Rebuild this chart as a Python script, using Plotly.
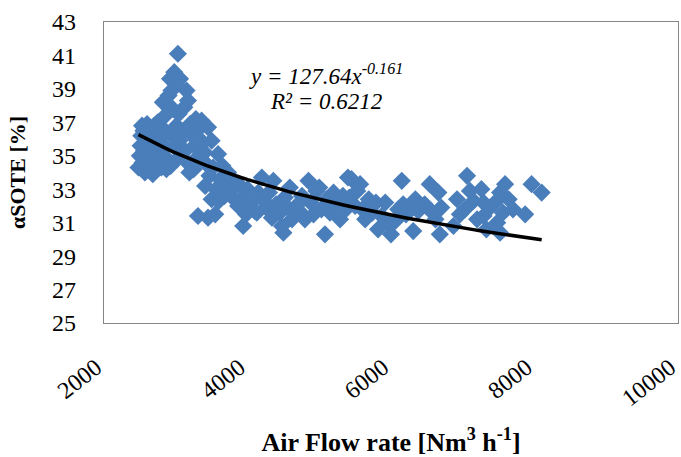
import plotly.graph_objects as go

# Scatter data: air flow rate [Nm3/h] vs alpha SOTE [%]
air_flow = [
    2480, 2500, 2510, 2520, 2530, 2550, 2560, 2540, 2570,
    2600, 2620, 2640, 2650, 2660, 2680, 2700, 2690,
    2750, 2760, 2770, 2780, 2800, 2820, 2830, 2850, 2840, 2860, 2870,
    2900, 2920, 2940, 2960, 2980, 3000, 3030, 3010, 2950, 2990, 3020, 2930, 3050, 3040, 3060,
    3100, 3120, 3150, 3170, 3130, 3160, 3190, 3200, 3230, 3260, 3280, 3300, 3250, 3320, 3310,
    3360, 3380, 3400, 3410, 3430, 3450, 3470, 3500, 3500, 3520, 3550, 3560, 3590, 3620, 3650, 3680, 3700, 3450, 3600,
    3730, 3760, 3800, 3840, 3870, 3900, 3940, 3950, 3980, 4000,
    4050, 4100, 4130, 4150, 4200, 4230, 4260, 4300, 4340, 4360, 4400, 4450, 4480, 4500, 4520, 4560, 4590, 4620,
    4680, 4720, 4760, 4800, 4850, 4880, 4920, 4960, 5000, 5030, 5080, 5100, 5150, 5200, 5250, 5290, 5330, 5370, 5400, 5420,
    5450, 5500, 5530, 5570, 5600, 5640, 5690, 5740, 5790, 5820, 5870, 5920, 5960, 6000, 6060, 6100, 6150, 6170, 6210,
    6270, 6310, 6340, 6380, 6420, 6470, 6540, 6580, 6620, 6660, 6680, 6700,
    6870, 6920, 6960, 7030, 7060, 7100, 7150, 7200, 7260, 7290, 7290, 7330, 7380, 7450, 7480, 7520, 7520, 7560,
    7590, 7640, 7700, 7870, 7960, 8100,
]
sote = [
    34.3, 35.0, 35.6, 36.2, 36.8, 36.5, 35.3, 34.6, 34.0,
    36.9, 36.3, 35.7, 35.1, 34.5, 33.9, 36.8, 35.9,
    37.0, 36.0, 35.4, 34.8, 34.3, 38.2, 37.3, 36.5, 35.6, 34.9, 34.2,
    38.6, 39.6, 38.9, 37.8, 40.0, 39.3, 41.1, 36.8, 36.2, 35.5, 34.8, 34.4, 35.9, 37.5, 39.6,
    36.4, 37.9, 38.9, 38.3, 35.3, 34.6, 34.0, 36.9, 36.2, 35.6, 37.2, 34.9, 34.2, 36.6, 31.4,
    37.1, 35.8, 35.2, 33.2, 34.5, 36.7, 33.8, 35.9, 32.4, 34.3, 31.5, 33.0, 35.1, 33.6, 34.4, 32.6, 33.3, 31.3, 32.3,
    34.0, 32.9, 33.5, 32.3, 32.0, 33.2, 30.8, 32.6, 31.5, 33.0,
    32.2, 31.7, 31.6, 32.8, 33.7, 32.3, 31.9, 32.8, 31.3, 33.5, 32.1, 31.6, 30.8, 30.4, 32.5, 31.9, 33.1, 31.2,
    32.0, 31.7, 32.6, 31.2, 33.5, 32.2, 31.5, 32.9, 33.1, 31.8, 30.3, 32.4, 31.6, 32.8, 32.1, 31.2, 32.6, 31.8, 33.7, 32.5,
    33.6, 32.0, 32.9, 33.3, 31.8, 31.2, 32.4, 31.6, 32.2, 30.6, 31.4, 32.2, 31.0, 30.3, 31.1, 31.8, 33.5, 32.1, 31.5,
    31.9, 30.5, 32.4, 31.7, 32.0, 32.1, 33.3, 31.6, 31.2, 32.8, 30.3, 31.9,
    30.8, 32.4, 31.5, 31.8, 33.8, 32.9, 32.3, 31.2, 33.0, 32.2, 31.4, 30.6, 31.9, 32.2, 31.0, 32.8, 30.4, 31.6,
    33.3, 32.4, 31.8, 31.5, 33.3, 32.8,
]

# Power trendline shown on the chart: y = a * x^b
trend_a = 127.64
trend_b = -0.161
trend_label = "y = 127.64x<sup>-0.161</sup>"
r2_label = "R² = 0.6212"

x_ticks = [2000, 4000, 6000, 8000, 10000]
y_ticks = [25, 27, 29, 31, 33, 35, 37, 39, 41, 43]

x_min, x_max = min(air_flow), max(air_flow)
n_trend = 60
trend_x = [x_min + (x_max - x_min) * i / (n_trend - 1) for i in range(n_trend)]
trend_y = [trend_a * xv ** trend_b for xv in trend_x]

font_family = "Liberation Serif, Times New Roman, serif"

fig = go.Figure()
fig.add_trace(go.Scatter(
    x=air_flow, y=sote, mode="markers",
    marker=dict(symbol="diamond", size=14, color="#4A7EBB", line=dict(width=0)),
    showlegend=False, hoverinfo="x+y",
))
fig.add_trace(go.Scatter(
    x=trend_x, y=trend_y, mode="lines",
    line=dict(color="black", width=3.5),
    showlegend=False, hoverinfo="skip",
))

fig.add_annotation(x=5095, y=39.87, xref="x", yref="y", text="<i>" + trend_label + "</i>",
                   showarrow=False, font=dict(family=font_family, size=23, color="black"))
fig.add_annotation(x=5095, y=38.27, xref="x", yref="y", text="<i>" + r2_label + "</i>",
                   showarrow=False, font=dict(family=font_family, size=23, color="black"))

fig.update_layout(
    width=681, height=457,
    margin=dict(l=104, r=3, t=22, b=134, autoexpand=False),
    paper_bgcolor="white", plot_bgcolor="white",
    font=dict(family=font_family, size=24, color="black"),
    xaxis=dict(
        range=[2000, 10000.1], tickvals=x_ticks, ticktext=[str(v) for v in x_ticks],
        tickangle=-38, showgrid=False, zeroline=False, automargin=False,
        showline=True, mirror=True, linecolor="#868686", linewidth=1.3,
        ticks="", ticklabelstandoff=20, ticklabelshift=-8,
        ticklabeloverflow="allow",
        title=dict(text="<b>Air Flow rate [Nm<sup>3</sup> h<sup>-1</sup>]</b>",
                   font=dict(family=font_family, size=26), standoff=25),
    ),
    yaxis=dict(
        range=[25, 43], tickvals=y_ticks, ticktext=[str(v) for v in y_ticks],
        showgrid=False, zeroline=False, automargin=False,
        showline=True, mirror=True, linecolor="#868686", linewidth=1.3,
        ticks="", ticklabelstandoff=22, ticklabeloverflow="allow",
        title=dict(text="<b>αSOTE [%]</b>", font=dict(family=font_family, size=22), standoff=20),
    ),
)

fig.write_html(
    "out.html",
    config={"displayModeBar": False},
    post_script="document.body.style.margin='0';document.body.style.overflow='hidden';",
)
